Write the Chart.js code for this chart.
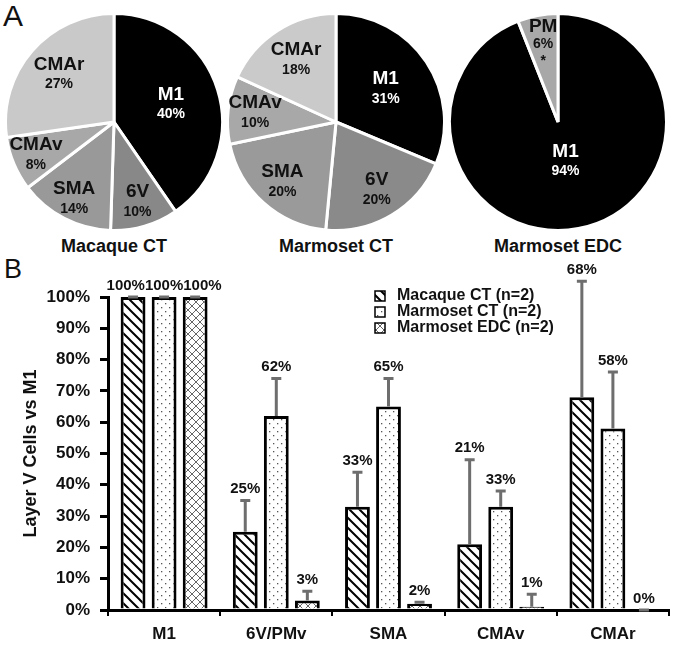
<!DOCTYPE html>
<html>
<head>
<meta charset="utf-8">
<script src="https://cdn.jsdelivr.net/npm/chart.js@4.4.1/dist/chart.umd.min.js"></script>
<style>
  body { margin: 0; background: #fff; }
  #fig { position: relative; width: 674px; height: 649px; font-family: 'Liberation Sans', Arial, sans-serif; color: #111; }
  canvas { position: absolute; }
  .panel { position: absolute; line-height: 1; }
  .cap { position: absolute; width: 224px; text-align: center; font-weight: bold; font-size: 18px; line-height: 18px; }
</style>
</head>
<body>
<div id="fig">
  <div class="panel" style="left:3px;top:1px;font-size:30px">A</div>
  <canvas id="pie1" width="224" height="224" style="left:2px;top:10px"></canvas>
  <canvas id="pie2" width="224" height="224" style="left:224px;top:10px"></canvas>
  <canvas id="pie3" width="224" height="224" style="left:446px;top:10px"></canvas>
  <div class="cap" style="left:2px;top:237px">Macaque CT</div>
  <div class="cap" style="left:224px;top:237px">Marmoset CT</div>
  <div class="cap" style="left:446px;top:237px">Marmoset EDC</div>
  <div class="panel" style="left:4px;top:256px;font-size:27px">B</div>
  <canvas id="bars" width="674" height="399" style="left:0;top:250px"></canvas>
</div>
<script>
// panel A
const macaqueAreas = ['M1', '6V', 'SMA', 'CMAv', 'CMAr'];
const macaquePct = [40, 10, 14, 8, 27];
const marmosetAreas = ['M1', '6V', 'SMA', 'CMAv', 'CMAr'];
const marmosetPct = [31, 20, 20, 10, 18];
const edcAreas = ['M1', 'PM'];
const edcPct = [94, 6];

// panel B
const barCategories = ['M1', '6V/PMv', 'SMA', 'CMAv', 'CMAr'];
const seriesLabels = ['Macaque CT (n=2)', 'Marmoset CT (n=2)', 'Marmoset EDC (n=2)'];
const macaqueCT = [100, 25, 33, 21, 68];
const macaqueCTErr = [0, 10, 11, 27, 37];
const marmosetCT = [100, 62, 65, 33, 58];
const marmosetCTErr = [0, 12, 9, 5, 18];
const marmosetEDC = [100, 3, 2, 1, 0];
const marmosetEDCErr = [0, 3, 0.5, 4, 0];

const FONT = "'Liberation Sans', Arial, sans-serif";
Chart.defaults.font.family = FONT;
Chart.defaults.color = '#111';

const pieLabels = {
  id: 'pieLabels',
  afterDatasetsDraw(chart, args, opts) {
    const ctx = chart.ctx;
    const ds = chart.data.datasets[0];
    ctx.save();
    ctx.textAlign = 'center';
    ctx.textBaseline = 'middle';
    chart.getDatasetMeta(0).data.forEach((arc, i) => {
      const p = arc.getProps(['x', 'y', 'startAngle', 'endAngle', 'outerRadius'], true);
      const mid = (p.startAngle + p.endAngle) / 2;
      const rr = p.outerRadius * opts.radius[i];
      const cx = p.x + Math.cos(mid) * rr;
      const cy = p.y + Math.sin(mid) * rr;
      const lines = [[chart.data.labels[i], 19], [ds.data[i] + '%', 14]];
      if (opts.notes && opts.notes[i]) lines.push([opts.notes[i], 14]);
      const step = lines.length > 2 ? 17 : 20;
      let y = cy - (lines.length - 1) * step / 2;
      ctx.fillStyle = i === 0 ? '#fff' : '#111';
      lines.forEach(([t, s]) => {
        ctx.font = 'bold ' + s + 'px ' + FONT;
        ctx.fillText(t, cx, y);
        y += step;
      });
    });
    ctx.restore();
  }
};

function makePie(id, labels, values, colors, radius, notes) {
  return new Chart(document.getElementById(id), {
    type: 'pie',
    data: {
      labels: labels,
      datasets: [{ data: values, backgroundColor: colors, borderColor: '#fff', borderWidth: 3 }]
    },
    options: {
      responsive: false,
      animation: false,
      layout: { padding: 2 },
      plugins: {
        legend: { display: false },
        tooltip: { enabled: false },
        pieLabels: { radius: radius, notes: notes }
      }
    },
    plugins: [pieLabels]
  });
}

makePie('pie1', macaqueAreas, macaquePct,
  ['#000000', '#888888', '#999999', '#a8a8a8', '#c9c9c9'],
  [0.55, 0.77, 0.8, 0.78, 0.67]);
makePie('pie2', marmosetAreas, marmosetPct,
  ['#000000', '#8a8a8a', '#9a9a9a', '#a8a8a8', '#cacaca'],
  [0.55, 0.73, 0.74, 0.75, 0.68]);
makePie('pie3', edcAreas, edcPct,
  ['#000000', '#a8a8a8'],
  [0.37, 0.73], [null, '*']);

// fill patterns for bars
function makePattern(kind) {
  const c = document.createElement('canvas');
  const s = kind === 'diag' ? 10 : 8;
  c.width = s; c.height = s;
  const g = c.getContext('2d');
  g.fillStyle = '#fff';
  g.fillRect(0, 0, s, s);
  if (kind === 'diag' || kind === 'cross') {
    g.strokeStyle = kind === 'diag' ? '#000' : '#666';
    g.lineWidth = kind === 'diag' ? 2 : 1;
    g.beginPath();
    g.moveTo(-1, -1); g.lineTo(s + 1, s + 1);
    g.moveTo(-2, s - 2); g.lineTo(2, s + 2);
    g.moveTo(s - 2, -2); g.lineTo(s + 2, 2);
    if (kind === 'cross') {
      g.moveTo(s + 1, -1); g.lineTo(-1, s + 1);
      g.moveTo(-2, 2); g.lineTo(2, -2);
      g.moveTo(s - 2, s + 2); g.lineTo(s + 2, s - 2);
    }
    g.stroke();
  } else {
    g.fillStyle = '#555';
    g.fillRect(1, 1, 1.3, 1.3);
    g.fillRect(5, 5, 1.3, 1.3);
  }
  return g.createPattern(c, 'repeat');
}

const errorBars = {
  id: 'errorBars',
  afterDatasetsDraw(chart) {
    const ctx = chart.ctx;
    const yS = chart.scales.y;
    ctx.save();
    // error bars
    chart.data.datasets.forEach((ds, di) => {
      chart.getDatasetMeta(di).data.forEach((bar, i) => {
        const y0 = yS.getPixelForValue(ds.data[i]);
        const y1 = yS.getPixelForValue(ds.data[i] + ds.errUp[i]);
        ctx.strokeStyle = '#6e6e6e';
        ctx.lineWidth = 3;
        ctx.beginPath();
        ctx.moveTo(bar.x, y0); ctx.lineTo(bar.x, y1);
        ctx.moveTo(bar.x - 5, y1); ctx.lineTo(bar.x + 5, y1);
        ctx.stroke();
      });
    });
    // value labels
    ctx.font = 'bold 15px ' + FONT;
    ctx.fillStyle = '#111';
    ctx.textAlign = 'center';
    ctx.textBaseline = 'bottom';
    chart.data.labels.forEach((lab, i) => {
      const items = chart.data.datasets.map((ds, di) => {
        const bar = chart.getDatasetMeta(di).data[i];
        const t = ds.data[i] + '%';
        return { t, x: bar.x, top: ds.data[i] + ds.errUp[i], w: ctx.measureText(t).width };
      });
      const same = items.every(it => it.top === items[0].top);
      if (same) {
        const gap = items[1].x - items[0].x;
        const spread = Math.max(gap, ...items.map(it => it.w));
        items.forEach((it, k) => { it.x = items[1].x + (k - 1) * spread; });
      }
      items.forEach(it => {
        ctx.fillText(it.t, it.x, yS.getPixelForValue(it.top) - 4);
      });
    });
    ctx.restore();
  },
  afterDraw(chart) {
    const ctx = chart.ctx;
    const lx = 375, ly = 46, step = 16;
    ctx.save();
    ctx.font = 'bold 16px ' + FONT;
    ctx.textBaseline = 'middle';
    ctx.textAlign = 'left';
    chart.data.datasets.forEach((ds, i) => {
      const y = ly + i * step;
      ctx.fillStyle = ds.backgroundColor;
      ctx.fillRect(lx, y - 5, 10, 10);
      ctx.strokeStyle = '#000';
      ctx.lineWidth = 1.5;
      ctx.strokeRect(lx, y - 5, 10, 10);
      ctx.fillStyle = '#111';
      ctx.fillText(ds.label, lx + 22, y);
    });
    ctx.restore();
  }
};

const barStyle = { borderColor: '#000', borderWidth: 3, categoryPercentage: 0.83, barPercentage: 0.8 };

new Chart(document.getElementById('bars'), {
  type: 'bar',
  data: {
    labels: barCategories,
    datasets: [
      Object.assign({ label: seriesLabels[0], data: macaqueCT, errUp: macaqueCTErr, backgroundColor: makePattern('diag') }, barStyle),
      Object.assign({ label: seriesLabels[1], data: marmosetCT, errUp: marmosetCTErr, backgroundColor: makePattern('dots') }, barStyle),
      Object.assign({ label: seriesLabels[2], data: marmosetEDC, errUp: marmosetEDCErr, backgroundColor: makePattern('cross') }, barStyle)
    ]
  },
  options: {
    responsive: false,
    animation: false,
    layout: { padding: { top: 47, right: 5, left: 0, bottom: 0 } },
    plugins: { legend: { display: false }, tooltip: { enabled: false } },
    scales: {
      x: {
        grid: { drawOnChartArea: false, color: '#000', lineWidth: 2, tickLength: 6, offset: true },
        border: { color: '#000', width: 3 },
        ticks: { font: { weight: 'bold', size: 17 }, color: '#111', padding: 8 },
        afterFit(s) { s.height = 39; }
      },
      y: {
        min: 0,
        max: 100,
        ticks: { stepSize: 10, callback: v => v + '%', font: { weight: 'bold', size: 17 }, color: '#111', padding: 10 },
        grid: { drawOnChartArea: false, color: '#000', lineWidth: 3, tickLength: 8 },
        border: { color: '#000', width: 3 },
        title: { display: true, text: 'Layer V Cells vs M1', font: { weight: 'bold', size: 18 }, color: '#111', padding: { top: 20, bottom: 0 } },
        afterFit(s) { s.width = 108; }
      }
    }
  },
  plugins: [errorBars]
});
</script>
</body>
</html>
